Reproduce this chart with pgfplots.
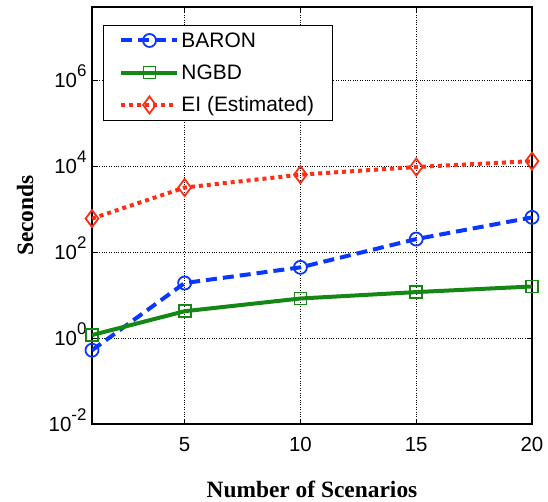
\documentclass[border=0pt]{standalone}
\usepackage{fontspec}
\setmainfont{Liberation Sans}
\newfontfamily\timesf{Liberation Serif}
\usepackage{pgfplots}
\pgfplotsset{compat=1.18}
\definecolor{cblue}{RGB}{10,55,255}
\definecolor{cgreen}{RGB}{20,135,20}
\definecolor{cred}{RGB}{255,45,20}
\newcommand{\expo}[1]{\raisebox{0.55em}{\fontsize{17}{20}\selectfont #1}}
\begin{document}
\begin{tikzpicture}
\begin{axis}[
  scale only axis, width=440bp, height=417bp,
  ymode=log, xmin=1, xmax=20, ymin=1e-2, ymax=5e7,
  xtick={5,10,15,20},
  ytick={1e-2,1,1e2,1e4,1e6},
  yticklabels={10\expo{-2},10\expo{0},10\expo{2},10\expo{4},10\expo{6}},
  minor ytick={},
  yminorticks=false,
  grid=major, major grid style={dotted, black, line width=0.8bp},
  axis line style={black, line width=1.3bp},
  tick align=inside, major tick length=5bp, tick style={black, line width=0.8bp},
  ticklabel style={font=\fontsize{20.5}{24}\selectfont},
  /pgf/number format/assume math mode=true,
  xticklabel style={yshift=-10bp},
  yticklabel style={xshift=-2bp, yshift=4bp},
  xlabel={\timesf\bfseries Number of Scenarios},
  ylabel={\timesf\bfseries Seconds},
  label style={font=\fontsize{23.5}{27}\selectfont},
  xlabel style={at={(axis description cs:0.5,-0.158)}, anchor=center},
  ylabel style={at={(axis description cs:-0.152,0.5)}, anchor=center},
  legend style={at={(axis description cs:0.025,0.957)}, anchor=north west,
    draw=black, line width=1bp, font=\fontsize{21}{24}\selectfont,
    row sep=12bp, inner xsep=16bp, inner ysep=5bp},
  legend cell align=left,
  legend image code/.code={\draw[mark repeat=2,mark phase=2] plot coordinates {(0bp,0bp) (28bp,0bp) (56bp,0bp)};},
]
\addplot[cblue, line width=4bp, dash pattern=on 11bp off 6bp, mark=o, mark size=6.5bp, mark options={solid, line width=1.8bp}]
  coordinates {(1,0.52) (5,19) (10,44) (15,200) (20,640)};
\addlegendentry{BARON}
\addplot[cgreen, line width=4bp, mark=square, mark size=6bp, mark options={solid, line width=1.8bp}]
  coordinates {(1,1.17) (5,4.2) (10,8.3) (15,11.7) (20,15.8)};
\addlegendentry{NGBD}
\addplot[cred, line width=4bp, dash pattern=on 4bp off 4bp, mark=diamond, mark size=8.5bp, mark options={solid, line width=1.8bp}]
  coordinates {(1,600) (5,3160) (10,6300) (15,9500) (20,13000)};
\addlegendentry{EI (Estimated)}
\end{axis}
\pgfresetboundingbox
\path (current axis.south west) ++(-92bp,-78bp) rectangle ++(548bp,502bp);
\end{tikzpicture}
\end{document}
